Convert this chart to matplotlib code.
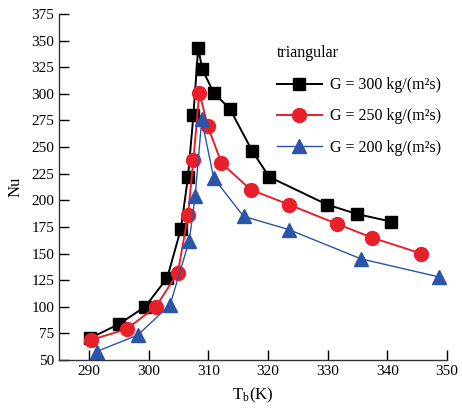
import matplotlib
matplotlib.use("Agg")
import matplotlib.pyplot as plt

plt.rcParams['font.family'] = ['Liberation Serif', 'DejaVu Serif']
plt.rcParams['mathtext.fontset'] = 'stix'

# G = 300 kg/(m2s)
T_300 = [290.2, 295.1, 299.4, 303.1, 305.4, 306.6, 307.5, 308.3, 309.0, 310.9,
         313.6, 317.4, 320.2, 329.9, 335.0, 340.7]
Nu_300 = [70.5, 84, 100, 127, 173, 222, 280, 343, 323, 301,
          286, 246, 222, 196, 187, 180]

# G = 250 kg/(m2s)
T_250 = [290.4, 296.3, 301.2, 304.9, 306.6, 307.5, 308.5, 309.9, 312.2, 317.1,
         323.5, 331.5, 337.4, 345.7]
Nu_250 = [69, 79, 100, 132, 186, 238, 301, 270, 235, 210,
          196, 178, 165, 150]

# G = 200 kg/(m2s)
T_200 = [291.3, 298.2, 303.6, 306.8, 307.8, 308.9, 310.9, 315.9, 323.5, 335.6, 348.7]
Nu_200 = [58, 73.5, 102, 162, 204, 276, 221, 185, 172.5, 145, 128]

labels = ['G = 300 kg/(m²s)', 'G = 250 kg/(m²s)', 'G = 200 kg/(m²s)']

fig = plt.figure(figsize=(4.62, 4.08), dpi=100)
ax = fig.add_axes([0.128, 0.1176, 0.8395, 0.848])

ax.plot(T_300, Nu_300, color='black', lw=1.4, marker='s', ms=8.5, label=labels[0])
ax.plot(T_250, Nu_250, color='#e8202a', lw=1.4, marker='o', ms=10, label=labels[1])
ax.plot(T_200, Nu_200, color='#2a55a8', lw=1.0, marker='^', ms=10, label=labels[2])

ax.set_xlim(285, 350)
ax.set_ylim(50, 375)
ax.set_xticks(range(290, 351, 10))
ax.set_yticks(range(50, 376, 25))
ax.tick_params(direction='in', length=7, width=1, labelsize=11, colors='black')
ax.spines['top'].set_visible(False)
ax.spines['right'].set_visible(False)
for s in ['left', 'bottom']:
    ax.spines[s].set_linewidth(1.0)
    ax.spines[s].set_color('#333333')

ax.set_xlabel(r'T$_\mathregular{b}$(K)', fontsize=12, labelpad=6)
ax.set_ylabel('Nu', fontsize=12, labelpad=6)

leg = ax.legend(title='triangular', loc='upper left', bbox_to_anchor=(0.545, 0.93),
                frameon=False, fontsize=11.5, title_fontsize=11.5,
                handlelength=2.8, handletextpad=0.5, labelspacing=0.95, borderaxespad=0)
leg._legend_box.align = 'left'
leg._legend_box.sep = 12

fig.savefig('out.png', dpi=100)
